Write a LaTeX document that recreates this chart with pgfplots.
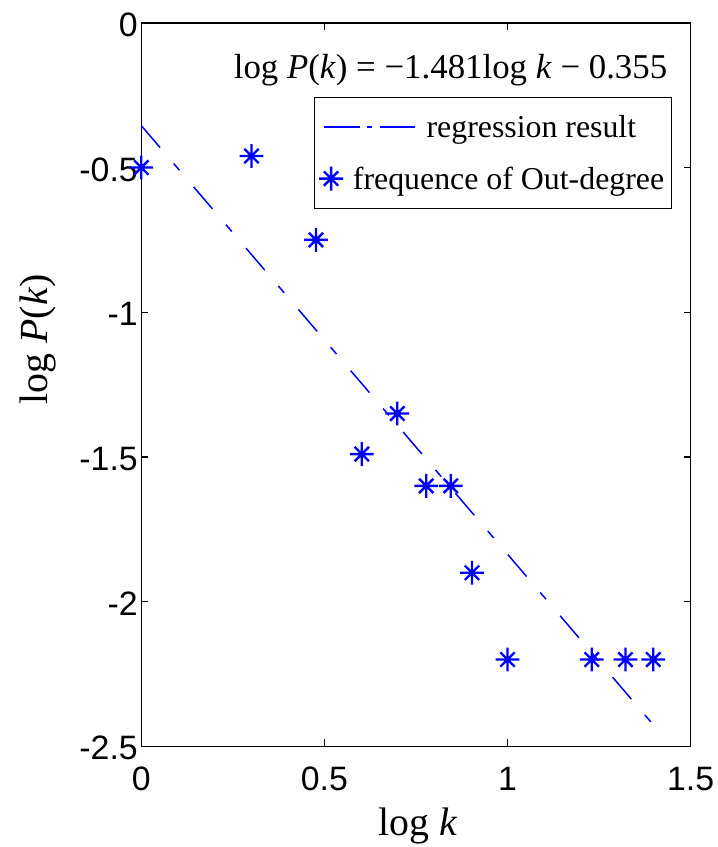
\documentclass[border=0pt]{standalone}
\usepackage{pgfplots}
\pgfplotsset{compat=1.18}
\usepackage{fontspec}
\setmainfont{Liberation Serif}
\newfontfamily\ticksf{Liberation Sans}

% MATLAB-style asterisk: plus with shorter diagonals
\pgfdeclareplotmark{mstar}{%
  \pgfpathmoveto{\pgfpoint{-\pgfplotmarksize}{0pt}}%
  \pgfpathlineto{\pgfpoint{\pgfplotmarksize}{0pt}}%
  \pgfpathmoveto{\pgfpoint{0pt}{-\pgfplotmarksize}}%
  \pgfpathlineto{\pgfpoint{0pt}{\pgfplotmarksize}}%
  \pgfpathmoveto{\pgfpoint{-0.6\pgfplotmarksize}{-0.6\pgfplotmarksize}}%
  \pgfpathlineto{\pgfpoint{0.6\pgfplotmarksize}{0.6\pgfplotmarksize}}%
  \pgfpathmoveto{\pgfpoint{-0.6\pgfplotmarksize}{0.6\pgfplotmarksize}}%
  \pgfpathlineto{\pgfpoint{0.6\pgfplotmarksize}{-0.6\pgfplotmarksize}}%
  \pgfusepathqstroke}

\definecolor{mblue}{RGB}{0,0,255}

\pgfplotsset{
  regleg/.style={legend image code/.code={%
    \draw[##1, overlay, dash pattern=on 36pt off 7pt on 5pt off 8pt]
      (-7pt,0pt) -- (84pt,0pt);
    \path (0pt,0pt);}},
  starleg/.style={legend image code/.code={%
    \draw[##1] plot coordinates {(0pt,0pt)};}},
}

\begin{document}
\begin{tikzpicture}
\begin{axis}[
  scale only axis,
  width=552pt, height=727pt,
  xmin=0, xmax=1.5, ymin=-2.5, ymax=0,
  xtick={0,0.5,1,1.5}, xticklabels={0,0.5,1,1.5},
  ytick={-2.5,-2,-1.5,-1,-0.5,0},
  yticklabels={-2.5,-2,-1.5,-1,-0.5,0},
  tick align=inside, major tick length=7pt,
  axis line style={line width=1.3pt},
  tick style={line width=1.3pt, black},
  ticklabel style={font=\ticksf\fontsize{34}{34}\selectfont},
  xticklabel style={yshift=-17pt},
  yticklabel style={yshift=-2pt},
  xlabel={log \textit{k}},
  ylabel={log \textit{P}(\textit{k})},
  label style={font=\fontsize{40}{40}\selectfont},
  xlabel style={at={(rel axis cs:0.5036,-0.1095)}, anchor=center},
  ylabel style={at={(rel axis cs:-0.188,0.5626)}, anchor=center},
  clip=false,
  legend style={at={(rel axis cs:0.9656,0.898)}, anchor=north east,
    draw=black, line width=1.2pt,
    font=\fontsize{32}{32}\selectfont,
    inner xsep=5pt, inner ysep=16pt, row sep=24pt, column sep=8pt},
  legend cell align=left,
]

\addplot[color=mblue, line width=1.5pt,
  dash pattern=on 29pt off 21pt on 9pt off 22pt, regleg]
  coordinates {(0,-0.355) (1.4,-2.4284)};

\addplot[color=mblue, only marks, mark=mstar, mark size=12pt,
  mark options={line width=2.4pt}, starleg]
  table {
    0.000  -0.50
    0.301  -0.46
    0.477  -0.75
    0.602  -1.49
    0.699  -1.35
    0.778  -1.60
    0.845  -1.60
    0.903  -1.90
    1.000  -2.20
    1.230  -2.20
    1.322  -2.20
    1.398  -2.20
  };

\legend{\hspace*{74pt}regression result, frequence of Out-degree}

\node[anchor=base east, font=\fontsize{35}{35}\selectfont]
  at (rel axis cs:0.9638,0.923)
  {log \textit{P}(\textit{k}) = −1.481log \textit{k} − 0.355};

\path (rel axis cs:-0.2572,-0.1334) rectangle (rel axis cs:1.0453,1.0316);
\end{axis}
\end{tikzpicture}
\end{document}
